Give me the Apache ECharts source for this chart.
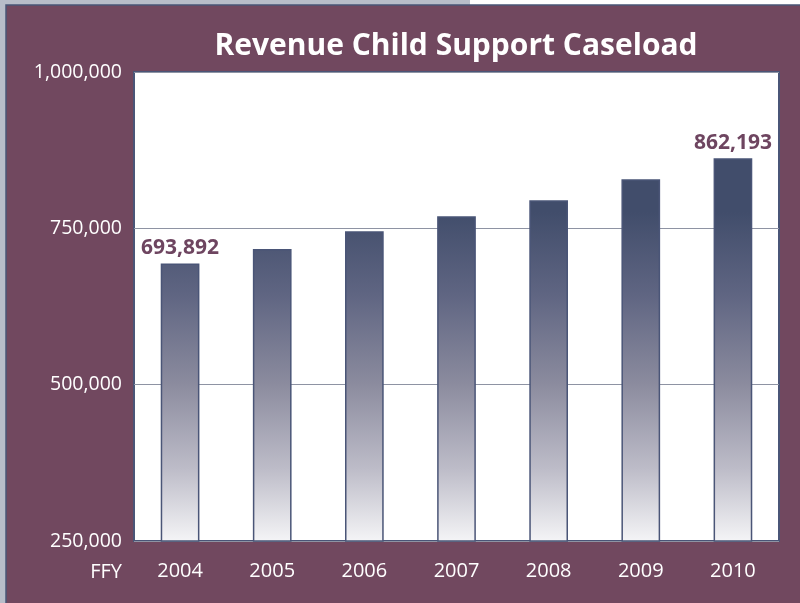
<!DOCTYPE html>
<html>
<head>
<meta charset="utf-8">
<title>Revenue Child Support Caseload</title>
<script src="https://cdn.jsdelivr.net/npm/echarts@6/dist/echarts.min.js"></script>
<style>
  html, body { margin: 0; padding: 0; background: #b8bdc9; }
  #chart { width: 800px; height: 603px; }
</style>
</head>
<body>
<div id="chart"></div>
<script>
// data
const years = ['2004', '2005', '2006', '2007', '2008', '2009', '2010'];
const caseload = [693892, 717000, 745500, 769500, 795000, 828500, 862193];
const labelledYears = ['2004', '2010'];
const yTicks = [250000, 500000, 750000, 1000000];

const maroon = '#71485f';
const navy = '#4a5577';

const chart = echarts.init(document.getElementById('chart'));

// bar fill runs dark at the top of the plot to near white at the base
const barFill = new echarts.graphic.LinearGradient(0, 212, 0, 541, [
    { offset: 0, color: '#414d6b' },
    { offset: 0.25, color: '#5f6582' },
    { offset: 0.52, color: '#8b8b9e' },
    { offset: 0.78, color: '#bdbcc8' },
    { offset: 1, color: '#f4f4f6' }
], true);

const option = {
    backgroundColor: '#b8bdc9',
    graphic: [
        { type: 'rect', z: -10, shape: { x: 470, y: 0, width: 330, height: 6 }, style: { fill: '#ffffff' } },
        { type: 'rect', z: -10, shape: { x: 6, y: 5, width: 800, height: 610 }, style: { fill: maroon, stroke: navy, lineWidth: 1.5 } },
        {
            type: 'text', z: 10, x: 122, y: 572,
            style: { text: 'FFY', fill: '#ffffff', font: '20px "Open Sans"', align: 'right', verticalAlign: 'middle' }
        }
    ],
    title: {
        text: 'Revenue Child Support Caseload',
        left: 451, top: 26, textAlign: 'center',
        textStyle: { color: '#ffffff', fontFamily: 'Open Sans', fontWeight: 'bold', fontSize: 30 }
    },
    grid: {
        left: 134, right: 21, top: 72, bottom: 62,
        show: true, backgroundColor: '#ffffff', borderColor: navy, borderWidth: 2
    },
    xAxis: {
        type: 'category',
        data: years,
        axisLine: { show: false },
        axisTick: { show: false },
        axisLabel: { color: '#ffffff', fontFamily: 'Open Sans', fontSize: 20, margin: 20 }
    },
    yAxis: {
        type: 'value',
        min: yTicks[0],
        max: yTicks[yTicks.length - 1],
        interval: 250000,
        axisLine: { show: false },
        axisTick: { show: false },
        splitLine: { lineStyle: { color: '#8e93a3', width: 1.2 } },
        axisLabel: {
            color: '#ffffff', fontFamily: 'Open Sans', fontSize: 19.5, margin: 12,
            formatter: v => v.toLocaleString('en-US')
        }
    },
    series: [{
        type: 'bar',
        barWidth: '42%',
        data: caseload.map((v, i) => ({
            value: v,
            label: { show: labelledYears.includes(years[i]) }
        })),
        itemStyle: { color: barFill, borderColor: navy, borderWidth: 1.5 },
        label: {
            position: 'top',
            distance: 5,
            color: '#6e4560',
            fontFamily: 'Open Sans',
            fontWeight: 'bold',
            fontSize: 21,
            formatter: p => p.value.toLocaleString('en-US')
        }
    }]
};
chart.setOption(option);
</script>
</body>
</html>
